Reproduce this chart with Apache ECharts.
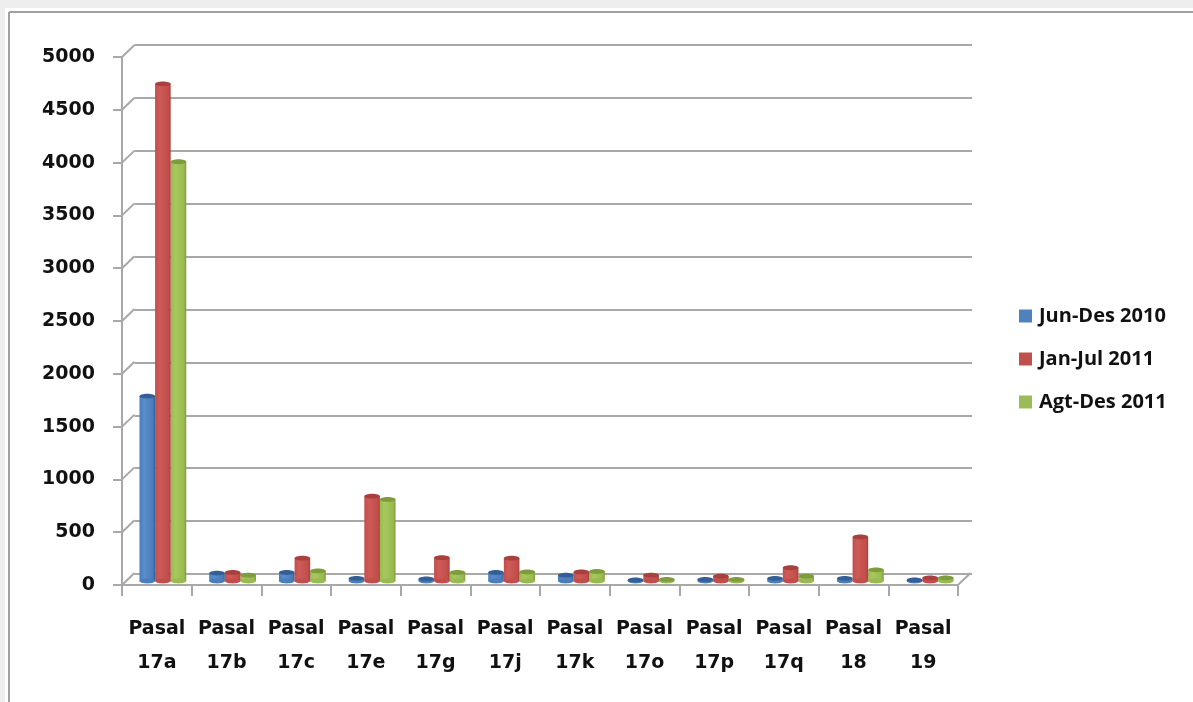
<!DOCTYPE html>
<html><head><meta charset="utf-8">
<style>html,body{margin:0;padding:0;background:#fff;overflow:hidden}#c{width:1193px;height:702px;filter:blur(0.7px)}</style>
<script src="https://cdn.jsdelivr.net/npm/echarts@6/dist/echarts.min.js"></script></head>
<body><div id="c"></div>
<script>
const categories=['Pasal\n17a','Pasal\n17b','Pasal\n17c','Pasal\n17e','Pasal\n17g','Pasal\n17j','Pasal\n17k','Pasal\n17o','Pasal\n17p','Pasal\n17q','Pasal\n18','Pasal\n19'];
const seriesNames=['Jun-Des 2010','Jan-Jul 2011','Agt-Des 2011'];
const junDes2010=[1745,75,80,25,20,80,55,10,15,25,25,10];
const janJul2011=[4690,80,215,800,220,215,85,55,45,125,415,30];
const agtDes2011=[3955,55,95,770,80,85,90,15,15,45,105,30];
const yTicks=[0,500,1000,1500,2000,2500,3000,3500,4000,4500,5000];
const palette=[['#335f96','#5b8ccb','#4a7dbb'],['#a8403d','#cf5b58','#c24e4b'],['#7f9c3c','#a6c85c','#98ba50']];
const grey='#a8a8a8';
function grad(p){return new echarts.graphic.LinearGradient(0,0,1,0,[{offset:0,color:p[2]},{offset:.3,color:p[1]},{offset:.85,color:p[2]},{offset:1,color:p[0]}]);}
function cyl(idx){return function(params,api){
  const top=api.coord([api.value(0),api.value(1)]),base=api.coord([api.value(0),0]);
  const w=15.6,x=top[0]+(idx-1)*w-w/2,ry=2.4;
  return {type:'group',children:[
    {type:'rect',shape:{x:x,y:top[1],width:w,height:base[1]-top[1]},style:{fill:grad(palette[idx])}},
    {type:'ellipse',shape:{cx:x+w/2,cy:base[1],rx:w/2,ry:ry},style:{fill:palette[idx][2]}},
    {type:'ellipse',shape:{cx:x+w/2,cy:top[1],rx:w/2,ry:ry},style:{fill:palette[idx][0]}}
  ]};
};}
function depth(params,api){
  const dx=12.5,dy=-12;
  const p=api.coord([0,api.value(0)]),half=api.size([1,0])[0]/2,x=p[0]-half;
  const kids=[{type:'line',shape:{x1:x,y1:p[1],x2:x+dx,y2:p[1]+dy},style:{stroke:grey,lineWidth:2}}];
  if(api.value(0)===0){
    const q=api.coord([categories.length-1,0]);
    kids.push({type:'line',shape:{x1:q[0]+half,y1:q[1],x2:q[0]+half+dx,y2:q[1]+dy},style:{stroke:grey,lineWidth:2}});
  }
  return {type:'group',children:kids};
}
const hiddenX=i=>({type:'category',gridIndex:i,data:categories,show:false});
const hiddenY=(i,split)=>({type:'value',gridIndex:i,min:0,max:5000,interval:500,axisLine:{show:false},axisTick:{show:false},axisLabel:{show:false},splitLine:{show:split,lineStyle:{color:grey,width:2}}});
const chart=echarts.init(document.getElementById('c'));
chart.setOption({
  animation:false,backgroundColor:'#fff',
  graphic:[
    {type:'rect',z:-10,shape:{x:0,y:0,width:1193,height:8},style:{fill:'#eeeeee'}},
    {type:'rect',z:-10,shape:{x:0,y:0,width:5,height:702},style:{fill:'#eeeeee'}},
    {type:'line',z:-10,shape:{x1:9,y1:12,x2:1193,y2:12},style:{stroke:'#a0a0a0',lineWidth:2}},
    {type:'line',z:-10,shape:{x1:9,y1:12,x2:9,y2:702},style:{stroke:'#a0a0a0',lineWidth:2}}
  ],
  grid:[
    {left:122,right:235,top:57,bottom:117},
    {left:134.5,right:221,top:45,bottom:128},
    {left:128,right:228,top:51,bottom:121}
  ],
  xAxis:[
    {type:'category',gridIndex:0,data:categories,boundaryGap:true,
     axisLine:{lineStyle:{color:grey,width:2}},axisTick:{show:true,alignWithLabel:false,length:11,lineStyle:{color:grey,width:2}},
     axisLabel:{interval:0,margin:27,color:'#111',fontFamily:'DejaVu Sans',fontWeight:'bold',fontSize:19,lineHeight:34,letterSpacing:1.2}},
    hiddenX(1),hiddenX(2)
  ],
  yAxis:[
    {type:'value',gridIndex:0,min:0,max:5000,interval:500,
     axisLine:{show:true,lineStyle:{color:grey,width:2}},axisTick:{show:true,length:9,lineStyle:{color:grey,width:2}},
     splitLine:{show:false},axisLabel:{margin:27,color:'#111',fontFamily:'DejaVu Sans',fontWeight:'bold',fontSize:19,formatter:v=>String(v)}},
    hiddenY(1,true),hiddenY(2,false)
  ],
  legend:{orient:'vertical',left:1014,top:300,itemWidth:13,itemHeight:13,itemGap:21,icon:'rect',data:seriesNames,
    textStyle:{color:'#111',fontFamily:'Open Sans',fontWeight:'bold',fontSize:20,lineHeight:22,letterSpacing:0.4,padding:[0,0,0,2]}},
  series:[
    {type:'custom',name:'depth',xAxisIndex:0,yAxisIndex:0,z:1,silent:true,data:yTicks.map(v=>[v]),encode:{y:0},renderItem:depth},
    {type:'custom',name:seriesNames[0],xAxisIndex:2,yAxisIndex:2,z:3,itemStyle:{color:'#4f81bd'},data:junDes2010.map((v,i)=>[i,v]),renderItem:cyl(0)},
    {type:'custom',name:seriesNames[2],xAxisIndex:2,yAxisIndex:2,z:3,itemStyle:{color:'#9bbb59'},data:agtDes2011.map((v,i)=>[i,v]),renderItem:cyl(2)},
    {type:'custom',name:seriesNames[1],xAxisIndex:2,yAxisIndex:2,z:4,itemStyle:{color:'#c0504d'},data:janJul2011.map((v,i)=>[i,v]),renderItem:cyl(1)}
  ]
});
</script></body></html>
